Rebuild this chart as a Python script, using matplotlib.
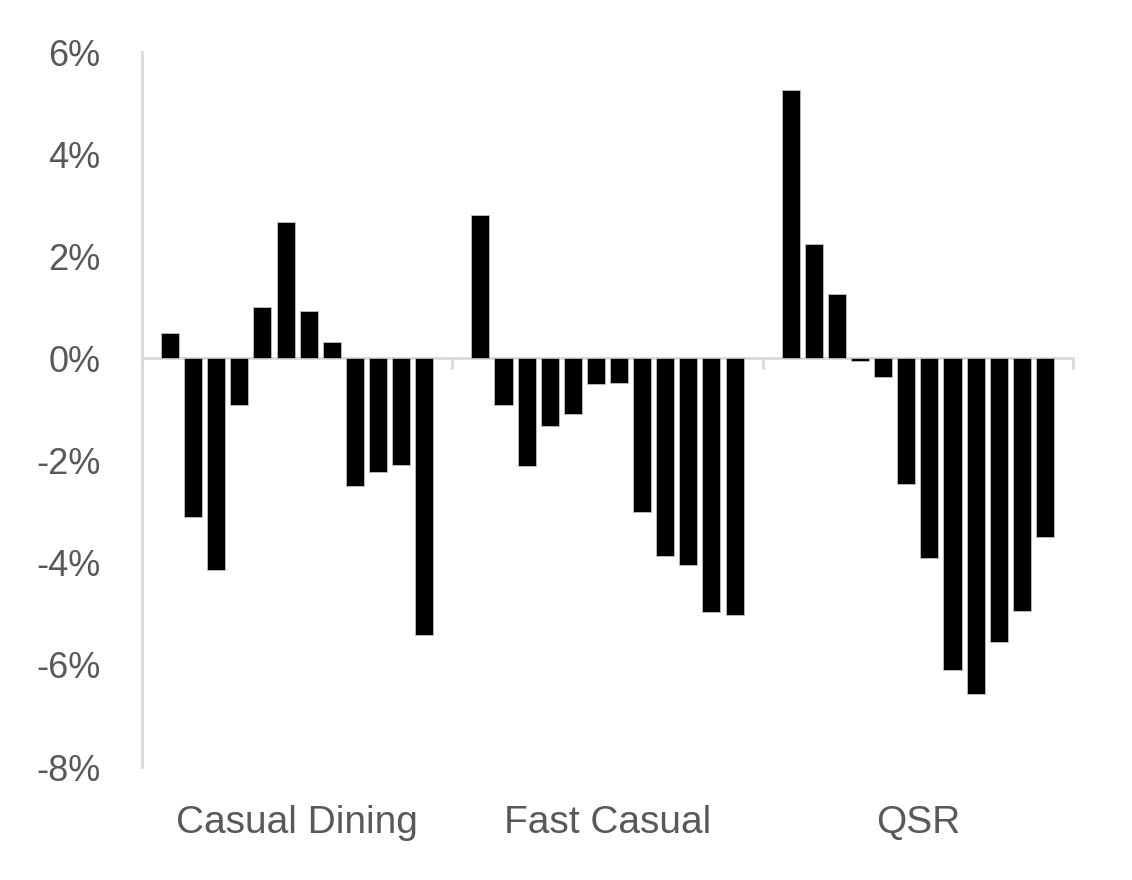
import numpy as np
import matplotlib.pyplot as plt
from matplotlib.ticker import FuncFormatter
import matplotlib.transforms as mtransforms

plt.rcParams["font.family"] = ["Liberation Sans", "DejaVu Sans"]

categories = ["Casual Dining", "Fast Casual", "QSR"]

casual_dining = [0.5, -3.1, -4.15, -0.92, 1.0, 2.67, 0.92, 0.33, -2.49, -2.22, -2.08, -5.41]
fast_casual = [2.8, -0.92, -2.1, -1.33, -1.08, -0.51, -0.49, -3.0, -3.86, -4.04, -4.96, -5.02]
qsr = [5.25, 2.25, 1.27, -0.05, -0.37, -2.45, -3.9, -6.1, -6.57, -5.55, -4.94, -3.49]

groups = [casual_dining, fast_casual, qsr]

n = 12
W = 13.43  # group width in bar slots
bar_w = 0.78

fig = plt.figure(figsize=(11.32, 8.8), dpi=100)
ax = fig.add_axes([0.1254, 0.1284, 0.8225, 0.8125])

for g, vals in enumerate(groups):
    x = g * W + (W - n) / 2 + np.arange(n) + 0.5
    ax.bar(x, vals, width=bar_w, color="black", edgecolor="#bfbfbf", linewidth=0.6, zorder=3)

ax.set_xlim(0, 3 * W)
ax.set_ylim(-8, 6)
ax.set_yticks(np.arange(-8, 7, 2))
ax.yaxis.set_major_formatter(FuncFormatter(lambda v, p: f"{v:.0f}%"))

ax.set_xticks([g * W for g in range(4)])
ax.set_xticklabels([])

for s in ["top", "right"]:
    ax.spines[s].set_visible(False)
ax.spines["left"].set_color("#d9d9d9")
ax.spines["left"].set_linewidth(2)
ax.spines["bottom"].set_position(("data", 0))
ax.spines["bottom"].set_color("#d9d9d9")
ax.spines["bottom"].set_linewidth(2)
ax.spines["bottom"].set_zorder(2)

ax.tick_params(axis="y", length=0, pad=30, labelsize=26, labelcolor="#595959")
ax.tick_params(axis="x", length=8, width=2, color="#d9d9d9", direction="out")

trans = mtransforms.blended_transform_factory(ax.transData, ax.transAxes)
for g, name in enumerate(categories):
    ax.text(g * W + W / 2, -0.0923, name, transform=trans, ha="center", va="baseline",
            fontsize=28, color="#595959")

fig.savefig("out.png", dpi=100)
